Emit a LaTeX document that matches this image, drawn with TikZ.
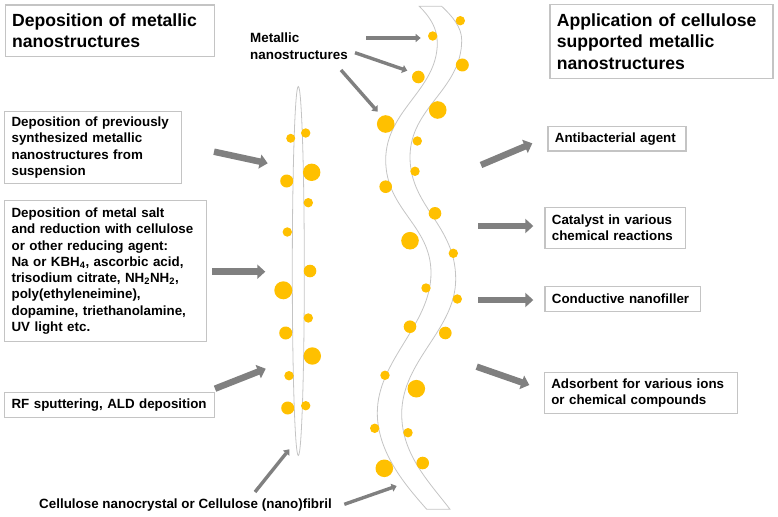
\documentclass[tikz,border=0pt]{standalone}
\usepackage{fontspec}
\setmainfont{Liberation Sans}
\usetikzlibrary{arrows.meta}
\definecolor{nanoyellow}{RGB}{255,192,0}
\definecolor{boxgray}{RGB}{196,196,196}
\definecolor{arrowgray}{RGB}{128,128,128}
\tikzset{
  box/.style={draw=boxgray, line width=1.2pt, anchor=north west, align=left, inner xsep=7pt, inner ysep=0pt, font=\bfseries\fontsize{13.35}{16.3}\selectfont},
  titlebox/.style={box, font=\bfseries\fontsize{17.6}{21.7}\selectfont},
  label/.style={anchor=north west, align=left, inner sep=0pt, font=\bfseries\fontsize{13.4}{16.5}\selectfont},
  fatarrow/.style={draw=arrowgray, line width=6.5pt, -{Triangle[length=8pt, width=14pt]}},
  thinarrow/.style={draw=arrowgray, line width=3.4pt, -{Triangle[length=5pt, width=8pt]}},
  fibre/.style={draw=boxgray, line width=0.8pt}
}
\begin{document}
\begin{tikzpicture}[x=1pt, y=-1pt]
\useasboundingbox (0,0) rectangle (778,516);
% Fibres
    \draw[fibre] (298.3,271) ellipse [x radius=6, y radius=184.5];
    \draw[fibre] (419.3,6.3) .. controls (430,17) and (437.3,28) .. (437.3,43)
      .. controls (437.3,90) and (385.7,110) .. (385.7,160)
      .. controls (385.7,210) and (431,225) .. (431,273)
      .. controls (431,325) and (377.3,360) .. (377.3,413)
      .. controls (377.3,455) and (410,490) .. (426.7,509.3)
      -- (450,509.3)
      .. controls (430,483) and (401.7,455) .. (401.7,414)
      .. controls (401.7,360) and (455.7,330) .. (455.7,279)
      .. controls (455.7,225) and (410,207) .. (410,157)
      .. controls (410,107) and (461.7,90) .. (461.7,40)
      .. controls (461.7,27) and (452,16) .. (441.7,6.3) -- cycle;
% Particles
    \foreach \px/\py/\pr in {290.7/138.3/4.5, 305.7/133/4.7, 311.7/172.3/8.7, 286.7/181/6.5, 308.3/202.7/4.7, 287.3/232/4.7,
      310/271/6.3, 283.3/290.3/9, 308.3/318/4.7, 285.7/333/6.5, 312.3/356/8.7, 289/375.7/4.7, 305.7/405.7/4.7, 287.7/408/6.5,
      460.3/20.7/4.7, 432.7/36/4.7, 462.3/65/6.5, 418.3/77/6.3, 437.7/110/8.8, 385.7/124/8.8, 417.3/141/4.7, 415/171.3/4.7,
      385.7/186.7/6.3, 435/213.3/6.3, 410/240.7/8.8, 453.3/253.3/4.7, 426/288/4.7, 457.3/299/4.7, 410/326.7/6.3, 445.3/333/6.3,
      385/375.3/4.7, 416.3/388.7/8.8, 374.7/428.3/4.7, 408/432.7/4.7, 422.7/463/6.3, 384.3/468.3/8.8}
      \fill[nanoyellow] (\px,\py) circle (\pr);
% Left boxes
    \node[titlebox, text width=195pt, minimum height=51.5pt] (deposition) at (4.5,4.5) {Deposition of metallic\\nanostructures};
    \node[box, text width=163pt, minimum height=72.5pt] (suspension) at (4,110.7) {Deposition of previously\\synthesized metallic\\nanostructures from\\suspension};
    \node[box, text width=188pt, minimum height=141pt] (reduction) at (4,200) {Deposition of metal salt\\and reduction with cellulose\\or other reducing agent:\\Na or KBH\textsubscript{4}, ascorbic acid,\\trisodium citrate, NH\textsubscript{2}NH\textsubscript{2},\\poly(ethyleneimine),\\dopamine, triethanolamine,\\UV light etc.};
    \node[box, text width=196pt, minimum height=25pt] (sputtering) at (4,392) {RF sputtering, ALD deposition};
% Right boxes
    \node[titlebox, text width=209pt, minimum height=74pt] (application) at (549.3,4) {Application of cellulose\\supported metallic\\nanostructures};
    \node[box, text width=124pt, minimum height=24.3pt] (antibacterial) at (547.3,126) {Antibacterial agent};
    \node[box, text width=126.5pt, minimum height=41.3pt] (catalyst) at (544.3,206.7) {Catalyst in various\\chemical reactions};
    \node[box, text width=141.5pt, minimum height=25pt] (conductive) at (544.3,286) {Conductive nanofiller};
    \node[box, text width=179.5pt, minimum height=41pt] (adsorbent) at (543.7,372) {Adsorbent for various ions\\or chemical compounds};
% Labels
    \node[label] (metallic) at (250,33) {Metallic\\nanostructures};
    \node[label] (cellulose) at (39,499) {Cellulose nanocrystal or Cellulose (nano)fibril};
% Arrow ends
    \coordinate (in1) at (214,151.7);   \coordinate (fib1) at (267.7,163.3);
    \coordinate (in2) at (212,271.7);   \coordinate (fib2) at (265.3,271.7);
    \coordinate (in3) at (215,388.7);   \coordinate (fib3) at (265.7,368.7);
    \coordinate (out1) at (481,165);    \coordinate (app1) at (532.3,143.3);
    \coordinate (out2) at (478.3,226);  \coordinate (app2) at (533.3,226);
    \coordinate (out3) at (478.3,300);  \coordinate (app3) at (533.3,300);
    \coordinate (out4) at (476.7,366.7); \coordinate (app4) at (529.3,385);
    \coordinate (tag1) at (366,38);     \coordinate (dot1) at (420.7,38);
    \coordinate (tag2) at (355,52.7);   \coordinate (dot2) at (407.3,70.7);
    \coordinate (tag3) at (341,70);     \coordinate (dot3) at (377.7,111.7);
    \coordinate (tag4) at (255,492);    \coordinate (tip1) at (289.3,449.3);
    \coordinate (tag5) at (344.3,504.3); \coordinate (tip2) at (396.7,486);
% Arrows
    \foreach \from/\to in {in1/fib1, in2/fib2, in3/fib3, out1/app1, out2/app2, out3/app3, out4/app4}
      \draw[fatarrow] (\from) -- (\to);
    \foreach \from/\to in {tag1/dot1, tag2/dot2, tag3/dot3, tag4/tip1, tag5/tip2}
      \draw[thinarrow] (\from) -- (\to);
\end{tikzpicture}
\end{document}
